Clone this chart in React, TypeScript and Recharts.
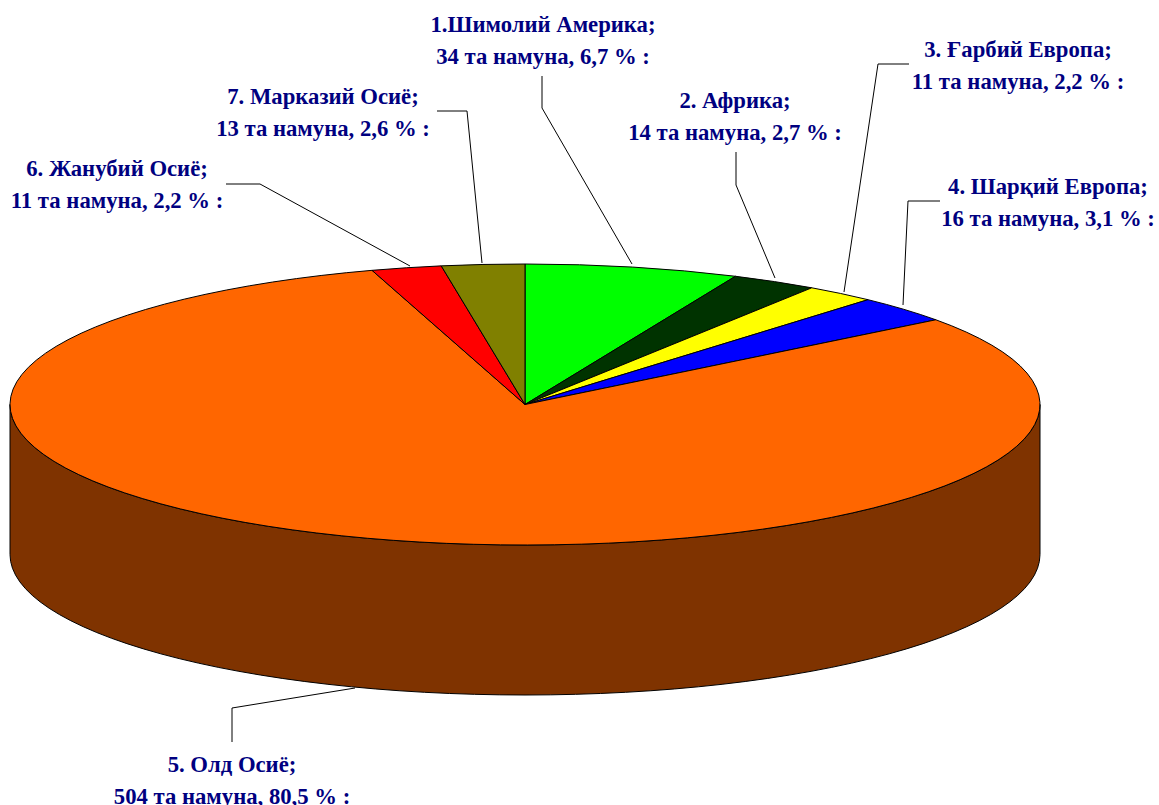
import { PieChart, Pie, Cell } from "recharts";

// clockwise from the top
const regions = [
  "1.Шимолий Америка;",
  "2. Африка;",
  "3. Ғарбий Европа;",
  "4. Шарқий Европа;",
  "5. Олд Осиё;",
  "6. Жанубий Осиё;",
  "7. Марказий Осиё;",
];
const counts = [34, 14, 11, 16, 504, 11, 13];
const percents = [6.7, 2.7, 2.2, 3.1, 80.5, 2.2, 2.6];

const COLORS = ["#00ff00", "#003300", "#ffff00", "#0000ff", "#ff6600", "#ff0000", "#808000"];
const SIDE_COLOR = "#7f3300";

const CENTER_X = 525;
const CENTER_Y = 404.5;
const RADIUS = 515;
const SQUASH = 140.5 / 515;
const DEPTH = 150;

// where each callout sits: text centre, first baseline, leader polyline
const CALLOUTS = [
  { x: 543, y: 32, line: "542,76 542,108 632,264" },
  { x: 735, y: 108, line: "736,152 736,185 775,278" },
  { x: 1018, y: 57, line: "909,64 878,64 844,292" },
  { x: 1048, y: 194, line: "940,201 908,201 903,305" },
  { x: 232, y: 772, line: "232,742 232,708 355,688" },
  { x: 117, y: 176, line: "226,184 260,184 410,266" },
  { x: 323, y: 104, line: "437,111 467,111 482,263" },
];

const data = regions.map((name, i) => ({ name, value: percents[i] }));

const pointAt = (cx: number, cy: number, r: number, deg: number) => {
  const a = (deg * Math.PI) / 180;
  return [cx + r * Math.cos(a), cy - r * SQUASH * Math.sin(a)];
};

// Pie hands over the angles, the slice is flattened into an ellipse here
function FlatSlice(props: any) {
  const { cx, cy, outerRadius: r, startAngle, endAngle, fill } = props;
  const ry = r * SQUASH;
  const [x0, y0] = pointAt(cx, cy, r, startAngle);
  const [x1, y1] = pointAt(cx, cy, r, endAngle);
  const large = startAngle - endAngle > 180 ? 1 : 0;

  const wallFrom = Math.min(startAngle, 0);
  const wallTo = Math.max(endAngle, -180);
  let wall = null;
  if (wallFrom > wallTo) {
    const [wx0, wy0] = pointAt(cx, cy, r, wallFrom);
    const [wx1, wy1] = pointAt(cx, cy, r, wallTo);
    wall = (
      <path
        d={`M${wx0},${wy0} A${r},${ry} 0 0 1 ${wx1},${wy1} L${wx1},${wy1 + DEPTH} A${r},${ry} 0 0 0 ${wx0},${wy0 + DEPTH} Z`}
        fill={SIDE_COLOR}
        stroke="#000"
        strokeWidth={1}
      />
    );
  }

  return (
    <g>
      {wall}
      <path
        d={`M${cx},${cy} L${x0},${y0} A${r},${ry} 0 ${large} 1 ${x1},${y1} Z`}
        fill={fill}
        stroke="#000"
        strokeWidth={1}
      />
    </g>
  );
}

function Callout(props: any) {
  const i = props.index;
  const c = CALLOUTS[i];
  return (
    <g>
      <polyline points={c.line} fill="none" stroke="#000" strokeWidth={1} />
      <text
        x={c.x}
        y={c.y}
        textAnchor="middle"
        fontFamily="'Liberation Serif', serif"
        fontWeight="bold"
        fontSize={22.7}
        fill="#000080"
      >
        <tspan x={c.x}>{regions[i]}</tspan>
        <tspan x={c.x} dy={32}>
          {`${counts[i]} та намуна, ${percents[i].toFixed(1).replace(".", ",")} % :`}
        </tspan>
      </text>
    </g>
  );
}

export default function App() {
  return (
    <div style={{ position: "absolute", left: 0, top: 0, width: 1159, height: 805, overflow: "hidden" }}>
      <PieChart width={1159} height={805} margin={{ top: 0, right: 0, bottom: 0, left: 0 }}>
        <Pie
          data={data}
          dataKey="value"
          nameKey="name"
          cx={CENTER_X}
          cy={CENTER_Y}
          innerRadius={0}
          outerRadius={RADIUS}
          startAngle={90}
          endAngle={-270}
          paddingAngle={0}
          stroke="#000"
          shape={FlatSlice}
          label={Callout}
          labelLine={false}
          isAnimationActive={false}
        >
          {data.map((entry, index) => (
            <Cell key={`cell-${index}`} fill={COLORS[index]} />
          ))}
        </Pie>
      </PieChart>
    </div>
  );
}
